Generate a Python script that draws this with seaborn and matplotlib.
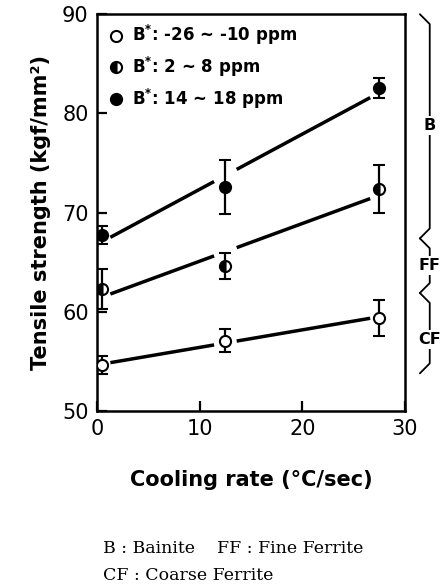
import numpy as np
import matplotlib
matplotlib.use("Agg")
import matplotlib.pyplot as plt
import matplotlib.transforms as mtransforms
from matplotlib.lines import Line2D
import seaborn as sns

# cooling rate (deg C / sec)
cooling_rate = [0.5, 12.5, 27.5]

# tensile strength (kgf/mm2) and error half-widths per B* group
ts_low = [54.6, 57.1, 59.4]
err_low = [0.9, 1.2, 1.8]
ts_mid = [62.3, 64.6, 72.4]
err_mid = [2.0, 1.3, 2.4]
ts_high = [67.7, 72.6, 82.6]
err_high = [0.9, 2.7, 1.0]

labels = ["B$^{\\mathbf{*}}$: -26 ~ -10 ppm",
          "B$^{\\mathbf{*}}$: 2 ~ 8 ppm",
          "B$^{\\mathbf{*}}$: 14 ~ 18 ppm"]

# microstructure regions on the right (name, lower, upper, label position)
regions = [("B", 67.4, 90.0, 78.8), ("FF", 61.9, 67.4, 64.7), ("CF", 53.8, 61.9, 57.2)]

sns.set_style("ticks")
plt.rcParams["font.family"] = ["DejaVu Sans"]
plt.rcParams["mathtext.default"] = "regular"
plt.rcParams["text.color"] = "black"
plt.rcParams["axes.labelcolor"] = "black"

fig = plt.figure(figsize=(4.42, 5.87), dpi=100)
ax = fig.add_axes([0.2195, 0.2998, 0.697, 0.676])

series = [(ts_low, err_low, "full", "white"),
          (ts_mid, err_mid, "left", "black"),
          (ts_high, err_high, "full", "black")]

x = np.array(cooling_rate)
for ys, es, fs, fc in series:
    slope, icpt = np.polyfit(x, ys, 1)
    for a, b in [(x[0] + 0.8, x[1] - 1.1), (x[1] + 1.1, x[2] - 0.9)]:
        xs = np.array([a, b])
        ax.plot(xs, icpt + slope * xs, color="black", lw=2.5, solid_capstyle="butt", zorder=2)
    ax.errorbar(x, ys, yerr=es, fmt="o", ms=8, color="black", mfc=fc,
                fillstyle=fs, markerfacecoloralt="white", mec="black", mew=1.5,
                ecolor="black", elinewidth=1.6, capsize=4.5, capthick=1.6, zorder=3)

ax.set_xlim(0, 30)
ax.set_ylim(50, 90)
ax.set_xticks([0, 10, 20, 30])
ax.set_yticks([50, 60, 70, 80, 90])
ax.tick_params(direction="in", length=7, width=1.6, labelsize=15, pad=6,
               colors="black", labelcolor="black")
for s in ax.spines.values():
    s.set_linewidth(1.8)
    s.set_color("black")

ax.set_xlabel("Cooling rate (°C/sec)", fontsize=15, fontweight="bold", labelpad=22)
ax.set_ylabel("Tensile strength (kgf/mm²)", fontsize=15, fontweight="bold", labelpad=8)

handles = [Line2D([], [], ls="none", marker="o", ms=8, mec="black", mew=1.5,
                  mfc=fc, fillstyle=fs, markerfacecoloralt="white")
           for _, _, fs, fc in series]
leg = ax.legend(handles, labels, loc="upper left", frameon=False,
                handletextpad=0.35, labelspacing=0.45, borderaxespad=0.15, handlelength=1.2,
                prop={"weight": "semibold", "size": 12})
for t in leg.get_texts():
    t.set_color("black")

# braces for microstructure regions
tr = mtransforms.blended_transform_factory(ax.transAxes, ax.transData)
xl, xr = 1.048, 1.08
for name, lo, hi, ylab in regions:
    d = 1.0
    ax.plot([xl, xr, xr, xl], [hi, hi - d, lo + d, lo], transform=tr, color="black",
            lw=1.3, clip_on=False)
    ax.text(xr, ylab, name, transform=tr, ha="center", va="center", fontsize=11.5,
            fontweight="bold", bbox=dict(fc="white", ec="none", pad=1.5))

fig.text(0.233, 0.066, "B : Bainite    FF : Fine Ferrite", fontsize=12.5,
         family="DejaVu Serif", va="center")
fig.text(0.233, 0.020, "CF : Coarse Ferrite", fontsize=12.5,
         family="DejaVu Serif", va="center")

fig.savefig("out.png", dpi=100)
